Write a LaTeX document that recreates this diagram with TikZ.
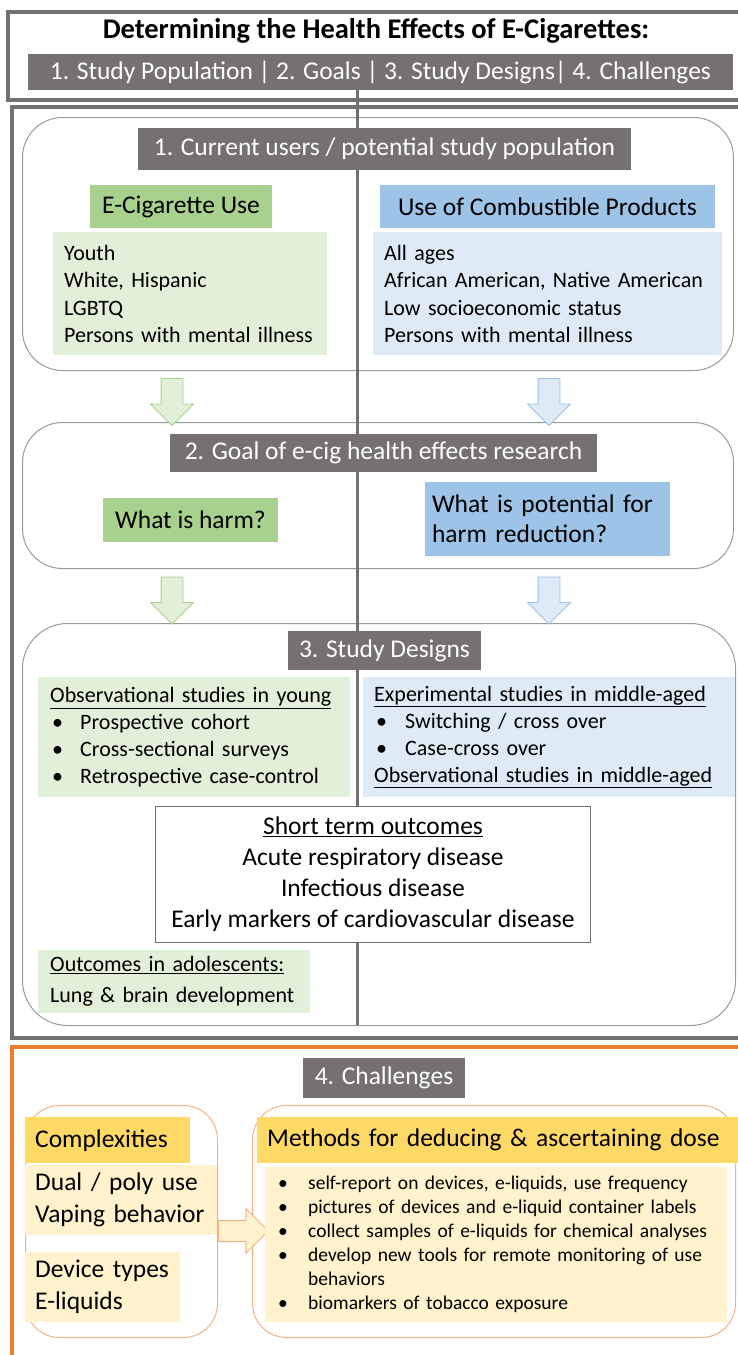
\documentclass[tikz,border=0pt]{standalone}
\usepackage{fontspec}
\setmainfont{Carlito}
\usetikzlibrary{shapes.arrows}
\definecolor{framegray}{HTML}{727070}
\definecolor{secgray}{HTML}{9A9A9A}
\definecolor{bannergray}{HTML}{767171}
\definecolor{gmid}{HTML}{A9D18E}
\definecolor{glight}{HTML}{E2F0D9}
\definecolor{bmid}{HTML}{9DC3E6}
\definecolor{blight}{HTML}{DEEBF7}
\definecolor{orng}{HTML}{ED7D31}
\definecolor{orlight}{HTML}{F4B183}
\definecolor{ymid}{HTML}{FFD966}
\definecolor{ylight}{HTML}{FFF2CC}
\begin{document}
\begin{tikzpicture}[x=1pt,y=-1pt,
  frame/.style={draw=framegray,line width=4},
  secbox/.style={draw=secgray,line width=1,rounded corners=40,anchor=north west,inner sep=0},
  orbox/.style={draw=orlight,line width=1,rounded corners=34,anchor=north west,inner sep=0},
  banner/.style={fill=bannergray,text=white,inner sep=0,font=\fontsize{25.5}{29}\selectfont},
  headbox/.style={inner sep=0,font=\fontsize{25.5}{29}\selectfont},
  listbox/.style={anchor=north west,inner ysep=0,align=left,font=\fontsize{22}{27.5}\selectfont},
  downarr/.style={single arrow,shape border rotate=270,minimum height=47,minimum width=42,
    single arrow head extend=10.5,inner sep=10.5,line width=0.8},
  vline/.style={draw=framegray,line width=3}
]
\useasboundingbox (0,0) rectangle (737,1355);

% outer frames
\node[frame,anchor=north west,minimum width=741,minimum height=88,inner sep=0] (topframe) at (6,10) {};
\node[frame,anchor=north west,minimum width=737,minimum height=931,inner sep=0] (mainframe) at (10,105) {};
\node[draw=orng,line width=4,anchor=north west,minimum width=737,minimum height=330,inner sep=0] (orframe) at (10,1045) {};

% section frames
\node[secbox,minimum width=711,minimum height=253] (sec1) at (22,117) {};
\node[secbox,minimum width=711,minimum height=146] (sec2) at (22,422) {};
\node[secbox,minimum width=713,minimum height=402,rounded corners=45] (sec3) at (22,623) {};

% central divider (behind the banners)
\coordinate (vtop) at (357,90);
\coordinate (vbot) at (357,1025);
\draw[vline] (vtop) -- (vbot);

% header
\node[font=\fontsize{28.5}{32}\selectfont\bfseries] (title) at (376,31) {Determining the Health Effects of E-Cigarettes:};
\node[banner,minimum width=705,minimum height=36] (overview) at (380.5,72) {1. Study Population | 2. Goals | 3. Study Designs| 4. Challenges};

% section 1
\node[banner,minimum width=493,minimum height=42] (ban1) at (384.5,149) {1. Current users / potential study population};
\node[headbox,fill=gmid,minimum width=182,minimum height=43] (ecig) at (181,206.5) {E-Cigarette Use};
\node[headbox,fill=bmid,minimum width=335,minimum height=43] (comb) at (547.5,206.5) {Use of Combustible Products};
\node[listbox,fill=glight,inner xsep=11,text width=252,minimum height=123] (glist) at (53,232)
  {Youth\\White, Hispanic\\LGBTQ\\Persons with mental illness};
\node[listbox,fill=blight,inner xsep=11,text width=327,minimum height=123] (blist) at (373,232)
  {All ages\\African American, Native American\\Low socioeconomic status\\Persons with mental illness};

\node[downarr,fill=glight,draw=gmid] (ga1) at (172,396.5) {};
\node[downarr,fill=blight,draw=bmid] (ba1) at (549,396.5) {};

% section 2
\node[banner,minimum width=427,minimum height=38] (ban2) at (383.5,453) {2. Goal of e-cig health effects research};
\node[headbox,fill=gmid,minimum width=175,minimum height=44] (harm) at (190.5,520) {What is harm?};
\node[headbox,fill=bmid,minimum width=245,minimum height=74,align=left,text width=231,inner xsep=7,
  font=\fontsize{25.5}{30}\selectfont] (pot) at (547.5,519) {What is potential for\\harm reduction?};

\node[downarr,fill=glight,draw=gmid] (ga2) at (172,595) {};
\node[downarr,fill=blight,draw=bmid] (ba2) at (549,595) {};

% section 3
\node[banner,minimum width=193,minimum height=39] (ban3) at (384.5,650.5) {3. Study Designs};
\node[listbox,fill=glight,inner xsep=12,text width=288,minimum height=120,font=\fontsize{22}{27}\selectfont] (obsy) at (38,677)
  {\underline{Observational studies in young}\\
   \makebox[30pt][l]{\hspace{2pt}\textbullet}Prospective cohort\\
   \makebox[30pt][l]{\hspace{2pt}\textbullet}Cross-sectional surveys\\
   \makebox[30pt][l]{\hspace{2pt}\textbullet}Retrospective case-control};
\node[listbox,fill=blight,inner xsep=11,text width=350,minimum height=120,font=\fontsize{22}{27}\selectfont] (expm) at (363,677)
  {\underline{Experimental studies in middle-aged}\\
   \makebox[31pt][l]{\hspace{2pt}\textbullet}Switching / cross over\\
   \makebox[31pt][l]{\hspace{2pt}\textbullet}Case-cross over\\
   \underline{Observational studies in middle-aged}};
\node[listbox,fill=glight,inner xsep=12,text width=248,minimum height=63,font=\fontsize{22}{31}\selectfont] (adol) at (38,950)
  {\underline{Outcomes in adolescents:}\\Lung \& brain development};
\node[draw=framegray,fill=white,line width=1,anchor=north west,minimum width=435,minimum height=136,
  inner sep=0,align=center,font=\fontsize{25.5}{31}\selectfont] (short) at (155,806)
  {\underline{Short term outcomes}\\Acute respiratory disease\\Infectious disease\\Early markers of cardiovascular disease};

% section 4
\node[banner,minimum width=162,minimum height=40] (ban4) at (384,1078) {4. Challenges};
\node[orbox,minimum width=192,minimum height=232] (leftbox) at (25,1105) {};
\node[orbox,minimum width=483,minimum height=232] (rightbox) at (252,1105) {};
\node[headbox,fill=ymid,anchor=north west,minimum width=155,minimum height=46,text width=145,inner xsep=10,align=left] (cplx) at (25,1117) {Complexities};
\node[listbox,fill=ylight,inner xsep=10,text width=172,minimum height=70,font=\fontsize{25.5}{32}\selectfont] (dual) at (25,1165)
  {Dual / poly use\\Vaping behavior};
\node[listbox,fill=ylight,inner xsep=10,text width=135,minimum height=70,font=\fontsize{25.5}{32}\selectfont] (dev) at (25,1252)
  {Device types\\E-liquids};
\node[single arrow,minimum height=50,minimum width=44,single arrow head extend=12,inner sep=10,
  fill=ylight,draw=orlight,line width=1] (rarr) at (238,1231) {};
\node[headbox,fill=ymid,anchor=north west,minimum width=471,minimum height=46,text width=461,inner xsep=10,align=left] (meth) at (257,1117)
  {Methods for deducing \& ascertaining dose};
\node[listbox,fill=ylight,inner xsep=10,text width=442,minimum height=155,font=\fontsize{19.5}{24}\selectfont] (mlist) at (265,1167)
  {\makebox[33pt][l]{\hspace{3pt}\textbullet}self-report on devices, e-liquids, use frequency\\
   \makebox[33pt][l]{\hspace{3pt}\textbullet}pictures of devices and e-liquid container labels\\
   \makebox[33pt][l]{\hspace{3pt}\textbullet}collect samples of e-liquids for chemical analyses\\
   \makebox[33pt][l]{\hspace{3pt}\textbullet}develop new tools for remote monitoring of use\\
   \hspace*{33pt}behaviors\\
   \makebox[33pt][l]{\hspace{3pt}\textbullet}biomarkers of tobacco exposure};
\end{tikzpicture}
\end{document}
